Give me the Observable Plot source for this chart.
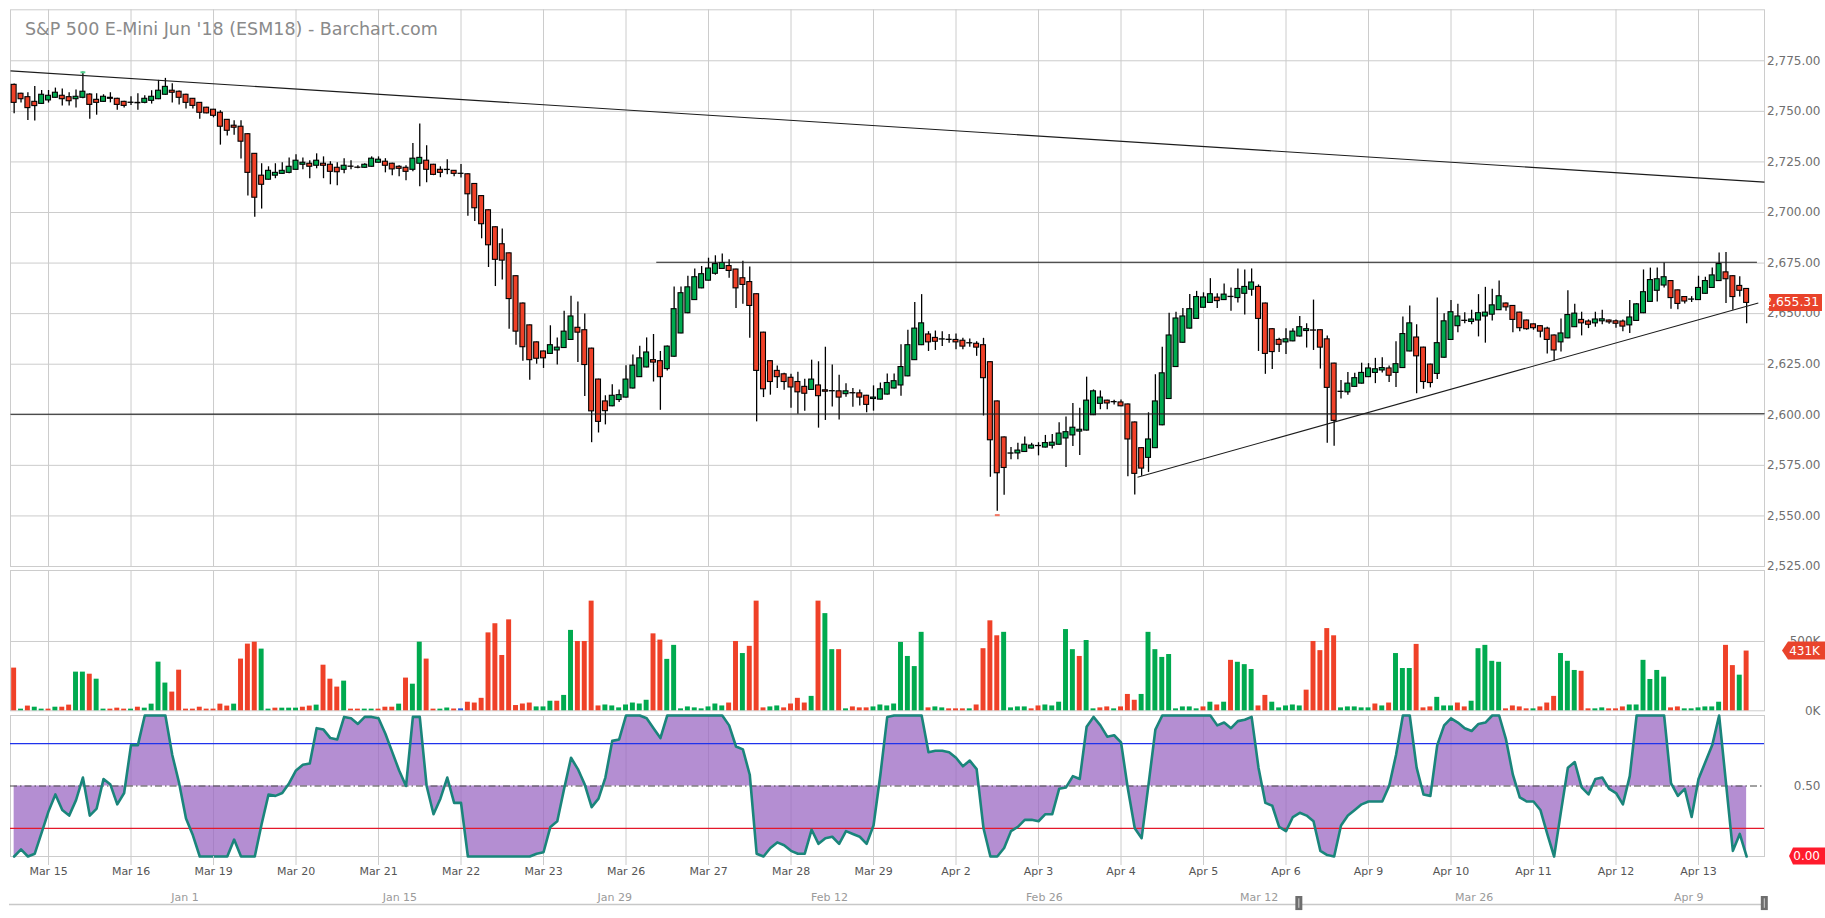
<!DOCTYPE html>
<html>
<head>
<meta charset="utf-8">
<script src="https://cdn.jsdelivr.net/npm/d3@7"></script>
<script src="https://cdn.jsdelivr.net/npm/@observablehq/plot@0.6"></script>
<style>
  html, body { margin: 0; padding: 0; background: #fff; }
  #chart { position: relative; width: 1825px; height: 918px; overflow: hidden; font-family: "DejaVu Sans", sans-serif; }
  #priceBadge { position: absolute; left: 1769px; width: 53px; height: 17px; overflow: hidden; background: #e9432b;
    display: flex; justify-content: flex-end; align-items: center; color: #fff; font: 12.3px "DejaVu Sans", sans-serif;
    white-space: nowrap; box-sizing: border-box; padding-right: 3px; }
</style>
</head>
<body>
<div id="chart"></div>
<script>
// ---------------- data ----------------
const title = "S&P 500 E-Mini Jun '18 (ESM18) - Barchart.com";
const startIndex = -5;       // bar index of the first bar (bars of Mar 14 evening)
const barsPerDay = 12;       // 2-hour bars
const dayLabels = ["Mar 15","Mar 16","Mar 19","Mar 20","Mar 21","Mar 22","Mar 23","Mar 26","Mar 27","Mar 28","Mar 29",
  "Apr 2","Apr 3","Apr 4","Apr 5","Apr 6","Apr 9","Apr 10","Apr 11","Apr 12","Apr 13"];

const opens = [
  2763.1,2758.7,2757.0,2754.7,2753.7,
  2755.4,2756.7,2757.7,2757.0,2756.0,2756.7,2758.3,2755.7,2754.7,2756.7,2756.2,2754.7,
  2754.2,2754.2,2754.2,2755.2,2756.0,2758.2,2760.2,2759.7,2758.2,2756.2,2754.2,2751.8,
  2750.8,2749.3,2745.8,2742.9,2742.4,2738.7,2729.0,2718.2,2716.2,2718.2,2719.1,2719.6,
  2721.1,2723.6,2724.1,2723.1,2724.1,2723.6,2722.1,2721.1,2722.7,2722.2,2722.1,2722.6,
  2724.6,2725.1,2724.1,2722.6,2722.1,2721.1,2724.1,2725.6,2723.6,2721.1,2721.0,2720.6,
  2719.1,2718.9,2714.1,2708.1,2701.1,2692.7,2684.3,2679.8,2668.5,2655.0,2644.2,2635.8,
  2631.3,2630.1,2631.8,2633.0,2637.0,2643.0,2641.8,2632.7,2617.4,2606.6,2604.2,2607.3,
  2608.5,2613.0,2618.6,2623.4,2627.0,2626.5,2622.6,2628.7,2640.2,2650.2,2656.7,2662.5,
  2666.3,2669.7,2672.1,2673.5,2671.8,2667.5,2665.6,2659.6,2640.6,2626.5,2621.7,2620.0,
  2618.3,2616.2,2613.8,2612.3,2614.5,2612.1,2611.6,2611.6,2610.2,2610.7,2610.6,2609.4,
  2607.8,2607.5,2610.0,2613.0,2614.5,2619.0,2627.0,2634.4,2639.7,2638.0,2637.2,2637.1,
  2637.0,2636.6,2635.3,2635.1,2634.4,2626.0,2606.6,2588.8,2580.8,2580.9,2581.6,2583.3,
  2584.6,2583.8,2584.7,2585.2,2588.3,2589.8,2591.7,2592.2,2599.8,2605.4,2607.0,2606.2,
  2606.1,2605.1,2596.2,2583.5,2578.7,2583.5,2594.8,2607.8,2623.6,2635.6,2642.6,2647.4,
  2652.9,2655.3,2657.9,2656.7,2658.3,2657.7,2659.8,2661.8,2663.2,2655.0,2642.3,2637.0,
  2635.8,2636.3,2638.7,2641.4,2641.7,2641.8,2637.3,2625.3,2611.3,2611.1,2613.8,2615.4,
  2618.6,2620.7,2621.9,2622.9,2620.7,2623.1,2631.3,2638.2,2633.2,2624.8,2620.2,2628.2,
  2637.0,2643.8,2646.5,2645.9,2646.6,2648.6,2649.5,2651.7,2655.0,2653.8,2650.5,2646.6,
  2644.7,2643.8,2642.6,2639.2,2635.8,2637.8,2643.3,2646.9,2646.1,2645.2,2646.2,2646.6,
  2646.2,2646.1,2644.2,2646.4,2650.2,2655.8,2661.3,2663.9,2666.1,2661.5,2658.2,2656.9,
  2656.7,2659.8,2662.7,2666.1,2670.4,2668.5,2663.7,2662.2
];
const highs = [
  2763.5,2759.0,2759.2,2762.3,2760.3,
  2760.3,2761.5,2761.1,2759.2,2760.6,2769.4,2758.7,2758.7,2758.2,2759.2,2756.5,2755.0,
  2757.2,2758.7,2757.7,2760.2,2765.3,2766.3,2763.6,2760.0,2758.5,2756.4,2754.4,2752.0,
  2751.0,2750.3,2746.0,2745.3,2745.3,2739.0,2729.2,2724.1,2722.6,2724.1,2724.6,2727.0,
  2728.5,2727.0,2725.6,2729.0,2727.5,2725.1,2724.6,2726.6,2725.6,2723.1,2724.1,2727.5,
  2727.5,2726.6,2724.3,2723.1,2723.1,2734.1,2743.8,2733.0,2723.8,2722.6,2726.1,2720.8,
  2723.7,2719.1,2714.3,2708.3,2701.3,2692.9,2691.8,2680.0,2668.7,2655.2,2644.4,2636.0,
  2631.5,2644.0,2638.0,2651.2,2658.6,2655.8,2649.8,2632.9,2617.6,2609.4,2614.8,2612.3,
  2624.3,2629.6,2633.9,2638.0,2639.7,2631.3,2634.0,2663.2,2663.2,2668.5,2672.1,2673.3,
  2677.4,2678.6,2679.5,2676.6,2672.0,2675.9,2673.0,2659.8,2640.8,2626.7,2624.1,2620.5,
  2620.0,2621.0,2617.6,2627.0,2626.2,2633.4,2624.6,2619.5,2615.4,2613.0,2612.3,2609.6,
  2614.3,2615.7,2620.2,2620.2,2634.6,2641.8,2655.5,2659.4,2641.1,2641.4,2641.1,2639.7,
  2639.9,2637.8,2637.5,2636.1,2637.8,2626.2,2606.8,2589.0,2583.8,2585.9,2589.0,2585.9,
  2586.2,2589.8,2590.2,2596.0,2598.9,2605.6,2603.2,2618.6,2612.3,2611.8,2607.2,2607.2,
  2607.3,2605.3,2596.4,2583.7,2601.0,2619.8,2633.4,2650.2,2650.7,2652.6,2659.4,2661.0,
  2660.3,2667.3,2659.8,2664.6,2662.7,2672.1,2671.6,2672.1,2664.2,2655.2,2642.5,2637.8,
  2642.5,2642.5,2648.6,2645.0,2656.7,2642.0,2639.0,2625.5,2616.9,2620.9,2620.5,2625.5,
  2625.3,2627.9,2628.2,2624.1,2636.1,2648.3,2653.8,2644.5,2633.4,2625.0,2657.7,2650.0,
  2656.5,2654.6,2650.5,2651.7,2659.4,2663.0,2662.0,2666.1,2655.2,2654.0,2650.7,2646.8,
  2644.9,2644.0,2643.3,2639.4,2647.4,2661.3,2654.6,2650.7,2646.9,2650.7,2651.7,2646.8,
  2646.9,2646.9,2656.5,2655.0,2671.6,2672.5,2672.5,2675.0,2666.3,2661.7,2658.4,2658.4,
  2668.5,2668.0,2672.6,2680.0,2680.2,2668.7,2668.2,2662.4
];
const lows = [
  2748.8,2754.1,2745.5,2745.2,2753.4,
  2754.1,2756.5,2752.6,2752.7,2751.6,2756.2,2746.1,2748.1,2754.5,2754.2,2750.6,2751.6,
  2752.9,2750.6,2753.7,2753.6,2755.8,2758.0,2754.1,2753.1,2751.1,2751.1,2746.1,2748.8,
  2746.8,2733.3,2737.8,2738.2,2726.4,2708.1,2697.7,2701.7,2716.0,2716.7,2718.9,2719.1,
  2720.9,2721.1,2716.7,2721.6,2716.7,2713.7,2713.2,2719.1,2721.1,2721.6,2721.9,2722.4,
  2724.4,2719.6,2718.2,2717.7,2715.7,2720.1,2712.7,2714.7,2718.2,2717.2,2718.6,2717.7,
  2717.0,2698.2,2695.6,2687.0,2672.8,2663.4,2666.6,2642.3,2634.4,2626.5,2617.1,2625.0,
  2622.9,2629.9,2624.6,2632.8,2636.8,2625.8,2609.0,2586.2,2591.0,2595.0,2604.0,2606.1,
  2608.3,2612.8,2618.4,2623.2,2616.2,2602.2,2621.7,2628.5,2640.0,2650.0,2656.5,2662.3,
  2666.1,2669.0,2671.9,2667.5,2652.6,2654.6,2637.8,2596.5,2608.5,2609.7,2613.0,2612.1,
  2603.2,2600.3,2601.8,2612.1,2593.4,2597.2,2603.9,2597.4,2608.7,2603.7,2604.4,2601.0,
  2601.8,2607.3,2609.8,2612.8,2609.2,2618.8,2626.8,2634.2,2631.3,2631.8,2633.7,2635.4,
  2632.2,2632.2,2633.4,2628.9,2599.4,2569.1,2552.3,2560.2,2577.8,2577.8,2581.4,2583.1,
  2579.7,2583.6,2583.1,2585.0,2573.9,2584.3,2579.9,2592.0,2599.6,2602.5,2602.5,2604.8,
  2604.0,2569.4,2560.3,2569.6,2571.5,2583.3,2594.6,2607.6,2623.4,2635.4,2642.4,2647.2,
  2652.7,2655.1,2652.6,2656.5,2651.2,2655.3,2649.3,2658.6,2631.3,2620.0,2622.4,2630.8,
  2629.8,2636.1,2638.5,2633.0,2631.8,2622.6,2585.9,2584.5,2607.8,2609.7,2613.6,2615.2,
  2618.4,2615.4,2620.7,2615.9,2613.5,2622.9,2631.1,2610.4,2612.6,2613.3,2617.4,2628.0,
  2636.8,2640.6,2645.0,2644.5,2638.5,2635.4,2646.4,2651.5,2651.2,2640.6,2641.1,2641.8,
  2641.8,2638.0,2630.1,2626.5,2631.0,2637.6,2643.1,2639.0,2642.6,2643.3,2644.5,2644.7,
  2642.8,2641.1,2640.2,2646.2,2650.0,2655.6,2655.8,2662.7,2652.2,2651.9,2654.8,2655.5,
  2656.5,2659.6,2662.5,2665.9,2655.0,2651.7,2658.2,2645.0
];
const closes = [
  2754.2,2756.0,2751.6,2752.6,2758.2,
  2757.7,2759.2,2756.0,2755.0,2757.2,2759.7,2753.2,2754.2,2757.2,2756.2,2753.2,2752.7,
  2754.3,2754.0,2756.2,2757.2,2760.2,2762.1,2759.2,2756.7,2754.2,2752.7,2749.3,2749.0,
  2747.8,2742.4,2740.4,2741.9,2735.0,2719.6,2707.3,2713.7,2720.6,2719.6,2720.6,2722.6,
  2725.6,2724.6,2722.6,2725.6,2723.1,2720.1,2719.9,2723.1,2722.6,2722.1,2723.6,2726.6,
  2726.1,2723.1,2721.3,2721.6,2720.1,2726.6,2727.0,2721.1,2718.6,2719.6,2721.1,2719.1,
  2719.1,2709.0,2702.1,2694.2,2683.8,2676.6,2676.2,2657.2,2641.1,2633.4,2627.0,2627.7,
  2627.9,2634.4,2633.2,2641.1,2648.6,2640.6,2624.6,2601.7,2596.5,2601.8,2609.4,2609.7,
  2617.4,2624.3,2627.9,2630.8,2625.8,2618.6,2633.7,2652.2,2660.1,2663.0,2668.0,2669.5,
  2672.3,2674.5,2675.0,2671.1,2662.5,2664.2,2653.8,2621.7,2612.6,2616.2,2618.6,2616.2,
  2613.5,2611.1,2610.4,2617.4,2609.2,2611.4,2611.7,2608.5,2611.6,2610.6,2608.5,2604.9,
  2608.5,2612.6,2615.7,2616.6,2623.6,2634.4,2642.6,2645.2,2635.8,2636.1,2637.3,2637.0,
  2635.8,2633.7,2635.4,2633.2,2618.1,2587.4,2571.1,2573.7,2580.9,2582.3,2585.2,2584.8,
  2584.5,2586.0,2586.2,2590.7,2591.4,2593.6,2592.6,2607.0,2611.6,2608.5,2605.6,2606.3,
  2604.2,2587.8,2570.8,2573.4,2587.8,2606.6,2620.5,2639.2,2647.6,2648.6,2652.2,2658.2,
  2658.0,2659.6,2656.2,2659.4,2658.2,2662.2,2663.2,2665.4,2647.4,2630.1,2631.0,2634.6,
  2637.3,2641.1,2643.3,2642.3,2641.6,2633.2,2613.3,2597.0,2611.4,2615.4,2618.1,2620.7,
  2622.9,2622.5,2623.1,2619.3,2625.0,2639.9,2645.2,2628.9,2616.2,2615.7,2635.4,2646.2,
  2650.7,2648.6,2646.4,2647.1,2650.2,2650.5,2654.1,2658.6,2653.1,2646.9,2642.8,2642.3,
  2642.8,2641.1,2637.0,2631.8,2640.2,2649.3,2650.0,2645.2,2644.5,2647.1,2647.2,2645.7,
  2645.0,2643.6,2648.1,2654.6,2660.6,2666.6,2667.0,2668.0,2657.7,2654.8,2656.0,2657.0,
  2662.7,2666.1,2668.9,2674.5,2667.0,2658.2,2661.3,2655.31
];
const volumesK = [
  308,12,34,26,12,
  12,26,26,41,279,279,264,228,12,12,19,12,
  12,26,19,48,351,200,135,293,12,12,26,12,
  12,48,34,48,373,481,495,445,12,19,19,19,
  19,26,34,41,329,228,171,214,12,12,12,12,
  12,26,26,48,236,192,495,373,12,12,20,13,
  14,62,56,90,562,628,399,656,38,49,56,28,
  28,69,69,111,580,500,500,791,35,42,35,21,
  42,56,49,76,555,510,371,472,14,28,21,14,
  28,49,35,56,500,413,465,791,21,28,35,21,
  49,90,56,104,791,701,441,441,14,28,21,21,
  28,42,35,49,493,392,319,566,21,28,21,14,
  14,14,14,42,448,649,541,566,21,28,28,14,
  35,42,35,62,586,441,392,507,14,21,28,14,
  28,118,76,118,566,441,385,406,14,28,28,14,
  28,62,42,62,364,350,333,298,35,111,62,21,
  35,42,35,149,500,434,593,541,21,28,28,21,
  21,49,35,56,413,305,305,479,21,28,97,35,
  35,56,28,69,448,472,357,350,14,35,28,14,
  14,28,56,104,413,357,291,285,14,14,21,14,
  14,28,42,42,364,226,291,243,21,28,14,14,
  21,28,28,62,472,326,257,431
];
const stochK = [
  0,0.05,0,0.02,0.17,
  0.32,0.44,0.33,0.29,0.40,0.56,0.29,0.34,0.55,0.51,0.37,0.45,
  0.79,0.79,1,1,1,1,0.72,0.52,0.27,0.15,0,0,
  0,0,0,0.12,0,0,0,0.23,0.44,0.43,0.45,0.52,
  0.61,0.65,0.66,0.91,0.90,0.84,0.83,0.99,0.98,0.94,0.99,0.99,
  0.98,0.87,0.74,0.61,0.50,0.99,0.99,0.50,0.30,0.41,0.56,0.38,
  0.38,0,0,0,0,0,0,0,0,0,0,0.02,
  0.03,0.21,0.25,0.48,0.70,0.62,0.51,0.35,0.41,0.56,0.82,0.83,
  1,1,1,0.98,0.91,0.84,1,1,1,1,1,1,
  1,1,1,0.93,0.78,0.76,0.58,0.02,0,0.06,0.10,0.08,
  0.04,0.02,0.02,0.19,0.09,0.13,0.14,0.09,0.18,0.16,0.14,0.09,
  0.22,0.58,0.99,1,1,1,1,1,0.74,0.75,0.75,0.74,
  0.70,0.64,0.68,0.62,0.20,0,0,0.06,0.18,0.21,0.26,0.26,
  0.25,0.30,0.30,0.48,0.49,0.57,0.55,0.92,0.99,0.93,0.85,0.86,
  0.81,0.48,0.20,0.13,0.51,0.90,1,1,1,1,1,1,
  1,1,0.93,0.95,0.91,0.96,0.97,0.99,0.63,0.38,0.36,0.21,
  0.18,0.28,0.31,0.29,0.25,0.04,0.01,0,0.22,0.29,0.33,0.37,
  0.39,0.39,0.39,0.50,0.72,1,1,0.63,0.44,0.43,0.79,0.93,
  0.98,0.95,0.91,0.89,0.94,0.95,1,1,0.83,0.58,0.42,0.39,
  0.39,0.33,0.16,0,0.32,0.63,0.67,0.49,0.44,0.55,0.56,0.48,
  0.45,0.37,0.57,1,1,1,1,1,0.52,0.43,0.48,0.28,
  0.55,0.67,0.79,1,0.52,0.04,0.16,0
];
const priceTicks = [2525,2550,2575,2600,2625,2650,2675,2700,2725,2750,2775];
const volumeTicksK = [0, 500];
const stochTicks = [0.5];
const stochLevels = [{v: 0.8, color: "#1f33ec"}, {v: 0.2, color: "#e4182b"}];
// hand-drawn trend lines: [bar index, price]
const trendLines = [
  {from: [-5.53, 2770.0], to: [249.6, 2715.0]},
  {from: [88.4, 2675.4], to: [248.5, 2675.4]},
  {from: [-5.53, 2600.3], to: [249.6, 2600.5]},
  {from: [158.4, 2569.1], to: [248.7, 2655.3]}
];
const extremeMarks = [{i: 5, p: 2769.3, color: "#4fd18d"}, {i: 138, p: 2550.4, color: "#f27461"}];
const navTickDates = ["2018-01-01","2018-01-15","2018-01-29","2018-02-12","2018-02-26","2018-03-12","2018-03-26","2018-04-09"];
const navWindow = ["2018-03-14T14:00Z", "2018-04-13T22:00Z"];
const navDomain = ["2017-12-20T13:26Z", "2018-04-14T01:26Z"];

// ---------------- derived ----------------
const UP = "#00aa4f", DOWN = "#ef4128", FLAT = "#2b58d6", GRID = "#cccccc";
const bars = opens.map((o, k) => ({i: startIndex + k, o, h: highs[k], l: lows[k], c: closes[k], v: volumesK[k], s: stochK[k]}));
bars.forEach((b, k) => {
  const prev = k ? bars[k - 1].c : b.o;
  b.vcolor = b.c > prev ? UP : b.c < prev ? DOWN : FLAT;
  b.bcolor = b.c > b.o ? UP : b.c < b.o ? DOWN : "#000";
});
const last = bars[bars.length - 1];
const xDomain = [-5.53, 249.6];
const dayTicks = dayLabels.map((_, d) => d * barsPerDay);
const half = 0.36;
const W = 1825;
const baseStyle = top => ({position: "absolute", left: "0px", top: top + "px", background: "transparent",
  overflow: "visible", fontFamily: "DejaVu Sans, sans-serif", fontSize: "12px"});
const common = {width: W, marginLeft: 10, marginRight: 61};

// ---------------- price panel ----------------
const price = Plot.plot({
  ...common, height: 568, marginTop: 9.3, marginBottom: 2,
  style: baseStyle(0),
  x: {domain: xDomain, axis: null},
  y: {domain: [2525, 2800.2], axis: null},
  color: {type: "identity"},
  marks: [
    Plot.gridX(dayTicks, {stroke: GRID, strokeOpacity: 1}),
    Plot.gridY(priceTicks, {stroke: GRID, strokeOpacity: 1}),
    Plot.frame({stroke: GRID}),
    Plot.ruleX(bars, {x: "i", y1: "l", y2: "h", stroke: "#000", strokeWidth: 1.3}),
    Plot.rect(bars, {x1: d => d.i - half, x2: d => d.i + half, y1: "o",
      y2: d => d.c === d.o ? d.c + 0.06 : d.c, fill: "bcolor", stroke: "#000", strokeWidth: 1.1}),
    Plot.link(extremeMarks, {x1: d => d.i - 0.35, x2: d => d.i + 0.35, y1: "p", y2: "p", stroke: "color", strokeWidth: 2}),
    Plot.link(trendLines, {x1: d => d.from[0], y1: d => d.from[1], x2: d => d.to[0], y2: d => d.to[1],
      stroke: "#1c1c1c", strokeWidth: 1.1}),
    Plot.axisY(priceTicks, {anchor: "right", label: null, tickSize: 0, tickPadding: 56, textAnchor: "end",
      tickFormat: d3.format(",.2f"), fill: "#6f6f6f", fontSize: 12})
  ]
});
d3.select(price).append("text").attr("x", 25).attr("y", 35).attr("text-anchor", "start")
  .attr("font-family", "DejaVu Sans, sans-serif").attr("font-size", 17.5).attr("fill", "#8a8a8a").text(title);

// ---------------- volume panel ----------------
const volume = Plot.plot({
  ...common, height: 144, marginTop: 2, marginBottom: 1.7,
  style: baseStyle(568),
  x: {domain: xDomain, axis: null},
  y: {domain: [0, 1012], axis: null},
  color: {type: "identity"},
  marks: [
    Plot.gridX(dayTicks, {stroke: GRID, strokeOpacity: 1}),
    Plot.gridY([500], {stroke: GRID, strokeOpacity: 1}),
    Plot.frame({stroke: GRID}),
    Plot.rect(bars, {x1: d => d.i - half, x2: d => d.i + half, y1: d => 0, y2: "v", fill: "vcolor"}),
    Plot.axisY(volumeTicksK, {anchor: "right", label: null, tickSize: 0, tickPadding: 56, textAnchor: "end",
      tickFormat: d => d + "K", fill: "#6f6f6f", fontSize: 12})
  ]
});
{
  const vy = volume.scale("y").apply(last.v);
  const g = d3.select(volume).append("g");
  g.append("path").attr("d", `M1782,${vy} L1788,${vy - 9} L1825,${vy - 9} L1825,${vy + 9} L1788,${vy + 9} Z`).attr("fill", "#e9432b");
  g.append("text").attr("x", 1820).attr("y", vy).attr("dy", "0.36em").attr("text-anchor", "end")
    .attr("fill", "#fff").attr("font-size", 12).text(Math.round(last.v) + "K");
}

// ---------------- stochastic panel ----------------
const stoch = Plot.plot({
  ...common, height: 206, marginTop: 3, marginBottom: 62,
  style: baseStyle(712),
  x: {domain: xDomain, axis: null},
  y: {domain: [0, 1], axis: null},
  marks: [
    Plot.gridX(dayTicks, {stroke: GRID, strokeOpacity: 1}),
    Plot.frame({stroke: GRID}),
    Plot.area(bars, {x1: "i", y1: d => 0.5, y2: "s", fill: "#9a66c2", fillOpacity: 0.74}),
    Plot.ruleY(stochLevels, {y: "v", stroke: "color", strokeWidth: 1.2}),
    Plot.ruleY([0.5], {stroke: "#444", strokeDasharray: "7,3,1.5,3"}),
    Plot.line(bars, {x: "i", y: "s", stroke: "#1a857b", strokeWidth: 2.6}),
    Plot.axisY(stochTicks, {anchor: "right", label: null, tickSize: 0, tickPadding: 56, textAnchor: "end",
      tickFormat: d3.format(".2f"), fill: "#6f6f6f", fontSize: 12}),
    Plot.axisX(dayTicks, {anchor: "bottom", label: null, tickSize: 9, tickFormat: () => "", stroke: GRID}),
    Plot.axisX(dayTicks, {anchor: "bottom", label: null, tickSize: 0, tickPadding: 11,
      tickFormat: d => dayLabels[Math.round(d / barsPerDay)], fill: "#555", fontSize: 11})
  ]
});
{
  const sy = stoch.scale("y").apply(last.s);
  const g = d3.select(stoch).append("g");
  g.append("path").attr("d", `M1789,${sy} L1793,${sy - 8.5} L1826,${sy - 8.5} L1826,${sy + 8.5} L1793,${sy + 8.5} Z`).attr("fill", "#ff1b2c");
  g.append("text").attr("x", 1820).attr("y", sy).attr("dy", "0.36em").attr("text-anchor", "end")
    .attr("fill", "#fff").attr("font-size", 12).text(d3.format(".2f")(last.s));
}

// ---------------- navigator ----------------
const nav = Plot.plot({
  width: W, height: 33, marginLeft: 9, marginRight: 59, marginTop: 0, marginBottom: 14,
  style: baseStyle(885),
  x: {type: "utc", domain: navDomain.map(d => new Date(d)), axis: null},
  y: {domain: [0, 1], axis: null},
  marks: [
    Plot.ruleY([0], {stroke: "#c8c8c8", strokeWidth: 1.5}),
    Plot.text(navTickDates, {x: d => new Date(d), y: d => 0.37, text: d => d3.utcFormat("%b %-d")(new Date(d)),
      fill: "#9a9a9a", fontSize: 11}),
    Plot.ruleX(navWindow, {x: d => new Date(d), y1: d => -0.32, y2: d => 0.42, stroke: "#6e6e6e", strokeWidth: 7}),
    Plot.ruleX(navWindow, {x: d => new Date(d), y1: d => -0.2, y2: d => 0.3, stroke: "#d0d0d0", strokeWidth: 1})
  ]
});

const chart = document.getElementById("chart");
chart.append(price, volume, stoch, nav);

// last price badge (clipped on the left like the original)
const badge = document.createElement("div");
badge.id = "priceBadge";
badge.style.top = (price.scale("y").apply(last.c) - 8.5) + "px";
badge.textContent = d3.format(",.2f")(last.c);
chart.append(badge);
</script>
</body>
</html>
